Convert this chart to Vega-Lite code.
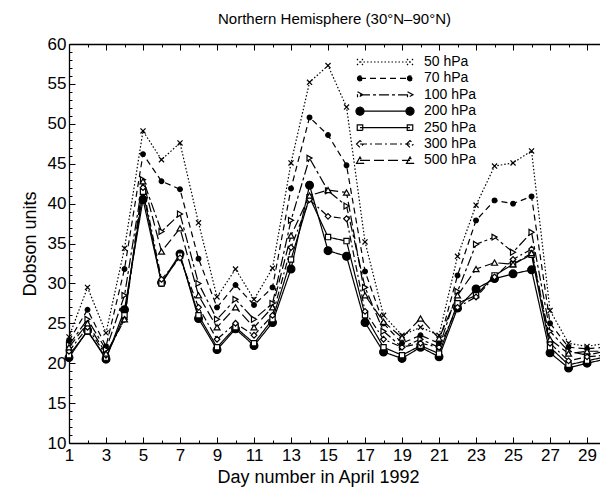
{
  "$schema": "https://vega.github.io/schema/vega-lite/v6.json",
  "autosize": "none",
  "width": 531,
  "height": 399,
  "padding": {"left": 69, "top": 44, "right": 0, "bottom": 48},
  "background": "white",
  "config": {
    "font": "Liberation Sans",
    "view": {"stroke": null},
    "axis": {"domainColor": "black", "domainWidth": 1.3, "tickColor": "black", "labelColor": "black", "titleColor": "black", "labelFont": "Liberation Sans", "titleFont": "Liberation Sans", "titleFontWeight": "normal", "grid": false},
    "point": {"stroke": "black", "strokeWidth": 1.2, "opacity": 1, "clip": true}
  },
  "title": {"text": "Northern Hemisphere (30°N–90°N)", "fontSize": 15, "fontWeight": "normal", "font": "Liberation Sans", "color": "black", "offset": 8},
  "data": {"values": [
    {"day":1,"p":"50 hPa","v":23.3},{"day":2,"p":"50 hPa","v":29.5},{"day":3,"p":"50 hPa","v":23.8},{"day":4,"p":"50 hPa","v":34.4},{"day":5,"p":"50 hPa","v":49.1},{"day":6,"p":"50 hPa","v":45.5},{"day":7,"p":"50 hPa","v":47.6},{"day":8,"p":"50 hPa","v":37.6},{"day":9,"p":"50 hPa","v":28.3},{"day":10,"p":"50 hPa","v":31.8},{"day":11,"p":"50 hPa","v":28.0},{"day":12,"p":"50 hPa","v":31.9},{"day":13,"p":"50 hPa","v":45.1},{"day":14,"p":"50 hPa","v":55.2},{"day":15,"p":"50 hPa","v":57.3},{"day":16,"p":"50 hPa","v":52.1},{"day":17,"p":"50 hPa","v":35.2},{"day":18,"p":"50 hPa","v":26.0},{"day":19,"p":"50 hPa","v":23.5},{"day":20,"p":"50 hPa","v":24.5},{"day":21,"p":"50 hPa","v":23.5},{"day":22,"p":"50 hPa","v":33.4},{"day":23,"p":"50 hPa","v":39.8},{"day":24,"p":"50 hPa","v":44.7},{"day":25,"p":"50 hPa","v":45.1},{"day":26,"p":"50 hPa","v":46.6},{"day":27,"p":"50 hPa","v":26.6},{"day":28,"p":"50 hPa","v":22.5},{"day":29,"p":"50 hPa","v":22.1},{"day":30,"p":"50 hPa","v":22.5},
    {"day":1,"p":"70 hPa","v":22.8},{"day":2,"p":"70 hPa","v":26.7},{"day":3,"p":"70 hPa","v":22.1},{"day":4,"p":"70 hPa","v":31.8},{"day":5,"p":"70 hPa","v":46.2},{"day":6,"p":"70 hPa","v":42.8},{"day":7,"p":"70 hPa","v":41.8},{"day":8,"p":"70 hPa","v":33.1},{"day":9,"p":"70 hPa","v":27.0},{"day":10,"p":"70 hPa","v":29.8},{"day":11,"p":"70 hPa","v":27.3},{"day":12,"p":"70 hPa","v":29.5},{"day":13,"p":"70 hPa","v":41.9},{"day":14,"p":"70 hPa","v":50.8},{"day":15,"p":"70 hPa","v":48.6},{"day":16,"p":"70 hPa","v":44.8},{"day":17,"p":"70 hPa","v":31.5},{"day":18,"p":"70 hPa","v":25.0},{"day":19,"p":"70 hPa","v":22.5},{"day":20,"p":"70 hPa","v":23.5},{"day":21,"p":"70 hPa","v":22.5},{"day":22,"p":"70 hPa","v":31.0},{"day":23,"p":"70 hPa","v":37.9},{"day":24,"p":"70 hPa","v":40.4},{"day":25,"p":"70 hPa","v":40.0},{"day":26,"p":"70 hPa","v":40.9},{"day":27,"p":"70 hPa","v":25.0},{"day":28,"p":"70 hPa","v":22.0},{"day":29,"p":"70 hPa","v":21.8},{"day":30,"p":"70 hPa","v":22.0},
    {"day":1,"p":"100 hPa","v":22.3},{"day":2,"p":"100 hPa","v":25.5},{"day":3,"p":"100 hPa","v":21.7},{"day":4,"p":"100 hPa","v":28.5},{"day":5,"p":"100 hPa","v":43.0},{"day":6,"p":"100 hPa","v":36.5},{"day":7,"p":"100 hPa","v":38.7},{"day":8,"p":"100 hPa","v":30.0},{"day":9,"p":"100 hPa","v":25.5},{"day":10,"p":"100 hPa","v":28.0},{"day":11,"p":"100 hPa","v":25.5},{"day":12,"p":"100 hPa","v":27.5},{"day":13,"p":"100 hPa","v":37.9},{"day":14,"p":"100 hPa","v":45.7},{"day":15,"p":"100 hPa","v":41.6},{"day":16,"p":"100 hPa","v":39.7},{"day":17,"p":"100 hPa","v":29.5},{"day":18,"p":"100 hPa","v":24.0},{"day":19,"p":"100 hPa","v":22.0},{"day":20,"p":"100 hPa","v":23.0},{"day":21,"p":"100 hPa","v":22.0},{"day":22,"p":"100 hPa","v":29.0},{"day":23,"p":"100 hPa","v":34.9},{"day":24,"p":"100 hPa","v":35.8},{"day":25,"p":"100 hPa","v":33.9},{"day":26,"p":"100 hPa","v":36.4},{"day":27,"p":"100 hPa","v":24.0},{"day":28,"p":"100 hPa","v":21.5},{"day":29,"p":"100 hPa","v":21.0},{"day":30,"p":"100 hPa","v":21.5},
    {"day":1,"p":"200 hPa","v":20.7},{"day":2,"p":"200 hPa","v":24.1},{"day":3,"p":"200 hPa","v":20.5},{"day":4,"p":"200 hPa","v":26.7},{"day":5,"p":"200 hPa","v":40.5},{"day":6,"p":"200 hPa","v":30.1},{"day":7,"p":"200 hPa","v":33.7},{"day":8,"p":"200 hPa","v":25.6},{"day":9,"p":"200 hPa","v":21.7},{"day":10,"p":"200 hPa","v":24.3},{"day":11,"p":"200 hPa","v":22.2},{"day":12,"p":"200 hPa","v":25.1},{"day":13,"p":"200 hPa","v":31.8},{"day":14,"p":"200 hPa","v":42.3},{"day":15,"p":"200 hPa","v":34.1},{"day":16,"p":"200 hPa","v":33.4},{"day":17,"p":"200 hPa","v":25.1},{"day":18,"p":"200 hPa","v":21.4},{"day":19,"p":"200 hPa","v":20.6},{"day":20,"p":"200 hPa","v":22.0},{"day":21,"p":"200 hPa","v":20.8},{"day":22,"p":"200 hPa","v":26.9},{"day":23,"p":"200 hPa","v":29.3},{"day":24,"p":"200 hPa","v":30.6},{"day":25,"p":"200 hPa","v":31.2},{"day":26,"p":"200 hPa","v":31.7},{"day":27,"p":"200 hPa","v":21.3},{"day":28,"p":"200 hPa","v":19.4},{"day":29,"p":"200 hPa","v":20.0},{"day":30,"p":"200 hPa","v":20.5},
    {"day":1,"p":"250 hPa","v":21.0},{"day":2,"p":"250 hPa","v":24.0},{"day":3,"p":"250 hPa","v":20.7},{"day":4,"p":"250 hPa","v":26.0},{"day":5,"p":"250 hPa","v":41.5},{"day":6,"p":"250 hPa","v":30.0},{"day":7,"p":"250 hPa","v":33.5},{"day":8,"p":"250 hPa","v":26.0},{"day":9,"p":"250 hPa","v":22.0},{"day":10,"p":"250 hPa","v":24.5},{"day":11,"p":"250 hPa","v":22.5},{"day":12,"p":"250 hPa","v":25.5},{"day":13,"p":"250 hPa","v":33.0},{"day":14,"p":"250 hPa","v":40.8},{"day":15,"p":"250 hPa","v":35.8},{"day":16,"p":"250 hPa","v":35.3},{"day":17,"p":"250 hPa","v":26.0},{"day":18,"p":"250 hPa","v":22.0},{"day":19,"p":"250 hPa","v":21.0},{"day":20,"p":"250 hPa","v":22.2},{"day":21,"p":"250 hPa","v":21.2},{"day":22,"p":"250 hPa","v":27.5},{"day":23,"p":"250 hPa","v":28.5},{"day":24,"p":"250 hPa","v":31.0},{"day":25,"p":"250 hPa","v":32.4},{"day":26,"p":"250 hPa","v":33.6},{"day":27,"p":"250 hPa","v":22.0},{"day":28,"p":"250 hPa","v":19.8},{"day":29,"p":"250 hPa","v":20.3},{"day":30,"p":"250 hPa","v":20.8},
    {"day":1,"p":"300 hPa","v":21.5},{"day":2,"p":"300 hPa","v":24.5},{"day":3,"p":"300 hPa","v":21.0},{"day":4,"p":"300 hPa","v":25.5},{"day":5,"p":"300 hPa","v":42.0},{"day":6,"p":"300 hPa","v":30.5},{"day":7,"p":"300 hPa","v":33.2},{"day":8,"p":"300 hPa","v":27.0},{"day":9,"p":"300 hPa","v":23.0},{"day":10,"p":"300 hPa","v":25.0},{"day":11,"p":"300 hPa","v":23.5},{"day":12,"p":"300 hPa","v":26.0},{"day":13,"p":"300 hPa","v":34.5},{"day":14,"p":"300 hPa","v":40.5},{"day":15,"p":"300 hPa","v":38.4},{"day":16,"p":"300 hPa","v":38.1},{"day":17,"p":"300 hPa","v":26.5},{"day":18,"p":"300 hPa","v":23.0},{"day":19,"p":"300 hPa","v":22.0},{"day":20,"p":"300 hPa","v":22.5},{"day":21,"p":"300 hPa","v":22.0},{"day":22,"p":"300 hPa","v":27.0},{"day":23,"p":"300 hPa","v":28.3},{"day":24,"p":"300 hPa","v":30.8},{"day":25,"p":"300 hPa","v":33.0},{"day":26,"p":"300 hPa","v":34.3},{"day":27,"p":"300 hPa","v":22.5},{"day":28,"p":"300 hPa","v":20.3},{"day":29,"p":"300 hPa","v":20.8},{"day":30,"p":"300 hPa","v":21.0},
    {"day":1,"p":"500 hPa","v":22.0},{"day":2,"p":"500 hPa","v":25.0},{"day":3,"p":"500 hPa","v":21.2},{"day":4,"p":"500 hPa","v":25.5},{"day":5,"p":"500 hPa","v":42.8},{"day":6,"p":"500 hPa","v":34.0},{"day":7,"p":"500 hPa","v":36.9},{"day":8,"p":"500 hPa","v":28.5},{"day":9,"p":"500 hPa","v":24.5},{"day":10,"p":"500 hPa","v":27.0},{"day":11,"p":"500 hPa","v":24.5},{"day":12,"p":"500 hPa","v":27.0},{"day":13,"p":"500 hPa","v":36.0},{"day":14,"p":"500 hPa","v":41.0},{"day":15,"p":"500 hPa","v":41.7},{"day":16,"p":"500 hPa","v":41.4},{"day":17,"p":"500 hPa","v":28.5},{"day":18,"p":"500 hPa","v":25.2},{"day":19,"p":"500 hPa","v":23.2},{"day":20,"p":"500 hPa","v":25.6},{"day":21,"p":"500 hPa","v":23.1},{"day":22,"p":"500 hPa","v":28.5},{"day":23,"p":"500 hPa","v":31.8},{"day":24,"p":"500 hPa","v":32.6},{"day":25,"p":"500 hPa","v":32.4},{"day":26,"p":"500 hPa","v":33.8},{"day":27,"p":"500 hPa","v":23.0},{"day":28,"p":"500 hPa","v":21.2},{"day":29,"p":"500 hPa","v":21.5},{"day":30,"p":"500 hPa","v":21.5}
  ]},
  "resolve": {"axis": {"x": "independent", "y": "independent"}},
  "layer": [
    {
      "mark": {"type": "line", "clip": true, "color": "black"},
      "encoding": {
        "x": {"field": "day", "type": "quantitative", "scale": {"domain": [1, 29.7], "nice": false, "zero": false},
          "axis": {"orient": "bottom", "values": [1,2,3,4,5,6,7,8,9,10,11,12,13,14,15,16,17,18,19,20,21,22,23,24,25,26,27,28,29,30],
            "labelExpr": "datum.value % 2 === 1 ? datum.label : ''", "labelFontSize": 17, "labelPadding": 10,
            "tickSize": {"condition": {"test": "datum.value % 2 === 1", "value": -6}, "value": -3},
            "title": "Day number in April 1992", "titleFontSize": 18, "titlePadding": 2, "titleX": 249, "labelFlush": false, "labelOverlap": false}},
        "y": {"field": "v", "type": "quantitative", "scale": {"domain": [10, 60], "nice": false, "zero": false},
          "axis": {"values": [10,11,12,13,14,15,16,17,18,19,20,21,22,23,24,25,26,27,28,29,30,31,32,33,34,35,36,37,38,39,40,41,42,43,44,45,46,47,48,49,50,51,52,53,54,55,56,57,58,59,60],
            "labelExpr": "datum.value % 5 === 0 ? datum.label : ''", "labelFontSize": 17, "labelPadding": 9,
            "tickSize": {"condition": {"test": "datum.value % 5 === 0", "value": -6}, "value": -3},
            "title": "Dobson units", "titleFontSize": 18, "titlePadding": 8, "labelOverlap": false, "labelFlush": false}},
        "detail": {"field": "p"},
        "strokeDash": {"field": "p", "type": "nominal", "sort": null,
          "scale": {"domain": ["50 hPa","70 hPa","100 hPa","200 hPa","250 hPa","300 hPa","500 hPa"],
            "range": [[1.5,2],[6,4],[10,3,3,3],[1,0],[1,0],[7,3,2,3],[10,4]]},
          "legend": {"orient": "none", "legendX": 284, "legendY": 11, "title": null, "symbolType": "M0,0H10", "symbolSize": 100,
            "symbolStrokeColor": "black", "symbolFillColor": "transparent", "labelFontSize": 14, "labelFont": "Liberation Sans", "labelColor": "black", "labelOffset": 57, "rowPadding": 2.4,
            "encode": {"symbols": {"update": {
              "shape": {"signal": "datum.value === '50 hPa' ? 'M0,0H10M-0.6,-0.6L0.6,0.6M-0.6,0.6L0.6,-0.6M9.4,-0.6L10.6,0.6M9.4,0.6L10.6,-0.6' : datum.value === '70 hPa' ? 'M0,0H10M-0.5,0A0.5,0.5 0 1,0 0.5,0A0.5,0.5 0 1,0 -0.5,0ZM9.5,0A0.5,0.5 0 1,0 10.5,0A0.5,0.5 0 1,0 9.5,0Z' : datum.value === '100 hPa' ? 'M0,0H10M-0.5,-0.6L0.6,0L-0.5,0.6ZM9.5,-0.6L10.6,0L9.5,0.6Z' : datum.value === '200 hPa' ? 'M0,0H10M-0.8,0A0.8,0.8 0 1,0 0.8,0A0.8,0.8 0 1,0 -0.8,0ZM9.2,0A0.8,0.8 0 1,0 10.8,0A0.8,0.8 0 1,0 9.2,0Z' : datum.value === '250 hPa' ? 'M0,0H10M-0.55,-0.55H0.55V0.55H-0.55ZM9.45,-0.55H10.55V0.55H9.45Z' : datum.value === '300 hPa' ? 'M0,0H10M-0.7,0L0,-0.7L0.7,0L0,0.7ZM9.3,0L10,-0.7L10.7,0L10,0.7Z' : 'M0,0H10M-0.7,0.6L0,-0.7L0.7,0.6ZM9.3,0.6L10,-0.7L10.7,0.6Z'"},
              "fill": {"signal": "datum.value === '70 hPa' || datum.value === '200 hPa' ? 'black' : 'white'"},
              "stroke": {"value": "black"},
              "strokeWidth": {"signal": "datum.value === '200 hPa' ? 2.6 : 1.1"}
            }}}}},
        "strokeWidth": {"field": "p", "type": "nominal", "sort": null,
          "scale": {"domain": ["50 hPa","70 hPa","100 hPa","200 hPa","250 hPa","300 hPa","500 hPa"], "range": [1.2,1.2,1.2,3,1.1,1.2,1.2]},
          "legend": null}
      }
    },
    {
      "transform": [{"filter": "datum.p === '50 hPa'"}],
      "mark": {"type": "point", "shape": "M-1,-1L1,1M-1,1L1,-1", "filled": false, "size": 26},
      "encoding": {
        "x": {"field": "day", "type": "quantitative",
          "axis": {"orient": "top", "values": [1,2,3,4,5,6,7,8,9,10,11,12,13,14,15,16,17,18,19,20,21,22,23,24,25,26,27,28,29,30], "labels": false, "title": null,
            "tickSize": {"condition": {"test": "datum.value % 2 === 1", "value": -6}, "value": -3}}},
        "y": {"field": "v", "type": "quantitative", "axis": null}
      }
    },
    {
      "transform": [{"filter": "datum.p === '70 hPa'"}],
      "mark": {"type": "point", "shape": "circle", "filled": true, "fill": "black", "size": 22},
      "encoding": {"x": {"field": "day", "type": "quantitative", "axis": null}, "y": {"field": "v", "type": "quantitative", "axis": null}}
    },
    {
      "transform": [{"filter": "datum.p === '100 hPa'"}],
      "mark": {"type": "point", "shape": "triangle-right", "filled": false, "fill": "white", "size": 34},
      "encoding": {"x": {"field": "day", "type": "quantitative", "axis": null}, "y": {"field": "v", "type": "quantitative", "axis": null}}
    },
    {
      "transform": [{"filter": "datum.p === '200 hPa'"}],
      "mark": {"type": "point", "shape": "circle", "filled": true, "fill": "black", "size": 60},
      "encoding": {"x": {"field": "day", "type": "quantitative", "axis": null}, "y": {"field": "v", "type": "quantitative", "axis": null}}
    },
    {
      "transform": [{"filter": "datum.p === '250 hPa'"}],
      "mark": {"type": "point", "shape": "square", "filled": false, "fill": "white", "size": 28},
      "encoding": {"x": {"field": "day", "type": "quantitative", "axis": null}, "y": {"field": "v", "type": "quantitative", "axis": null}}
    },
    {
      "transform": [{"filter": "datum.p === '300 hPa'"}],
      "mark": {"type": "point", "shape": "diamond", "filled": false, "fill": "white", "size": 32},
      "encoding": {"x": {"field": "day", "type": "quantitative", "axis": null}, "y": {"field": "v", "type": "quantitative", "axis": null}}
    },
    {
      "transform": [{"filter": "datum.p === '500 hPa'"}],
      "mark": {"type": "point", "shape": "triangle-up", "filled": false, "fill": "white", "size": 36},
      "encoding": {"x": {"field": "day", "type": "quantitative", "axis": null}, "y": {"field": "v", "type": "quantitative", "axis": null}}
    }
  ]
}
